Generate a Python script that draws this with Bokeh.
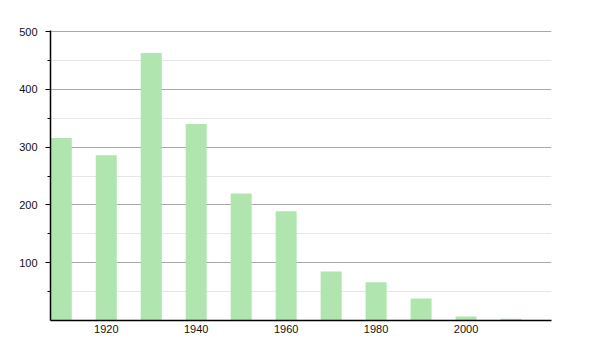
from bokeh.plotting import figure
from bokeh.models import ColumnDataSource, FixedTicker, Range1d
from bokeh.embed import file_html
from bokeh.resources import INLINE

years = [1910, 1920, 1930, 1940, 1950, 1960, 1970, 1980, 1990, 2000, 2010]
population = [316, 286, 463, 340, 220, 189, 85, 66, 38, 7, 3]
x_tick_labels = [1920, 1940, 1960, 1980, 2000]
y_ticks = [100, 200, 300, 400, 500]
y_minor = [50, 150, 250, 350, 450]

src = ColumnDataSource(data=dict(year=years, pop=population))

p = figure(width=600, height=350, output_backend="svg", toolbar_location=None,
           x_range=Range1d(1907.6, 2019), y_range=Range1d(0, 502),
           min_border_left=50, min_border_right=49, min_border_top=30, min_border_bottom=30)
p.outline_line_color = None
p.background_fill_color = "white"
p.border_fill_color = "white"

p.vbar(x="year", top="pop", width=4.67, source=src, fill_color="#b0e5b0", line_color=None)

p.xgrid.visible = False
p.ygrid.ticker = FixedTicker(ticks=y_ticks, minor_ticks=y_minor)
p.ygrid.grid_line_color = "#a8a8a8"
p.ygrid.grid_line_width = 1
p.ygrid.minor_grid_line_color = "#e6e6e6"
p.ygrid.minor_grid_line_width = 1

ya = p.yaxis[0]
ya.ticker = FixedTicker(ticks=y_ticks, minor_ticks=y_minor)
ya.axis_line_color = "black"
ya.axis_line_width = 1.5
ya.major_tick_line_color = "black"
ya.major_tick_out = 5
ya.major_tick_in = 0
ya.minor_tick_line_color = "black"
ya.minor_tick_out = 3
ya.minor_tick_in = 0
ya.major_label_standoff = 8
ya.major_label_text_font = "Liberation Sans"
ya.major_label_text_font_size = "11px"
ya.major_label_text_color = "#111111"

xa = p.xaxis[0]
xa.ticker = FixedTicker(ticks=x_tick_labels)
xa.axis_line_color = "black"
xa.axis_line_width = 1.5
xa.major_tick_out = 0
xa.major_tick_in = 0
xa.minor_tick_out = 0
xa.minor_tick_in = 0
xa.major_label_standoff = 4
xa.major_label_text_font = "Liberation Sans"
xa.major_label_text_font_size = "11px"
xa.major_label_text_color = "#111111"

open("out.html", "w").write(file_html(p, INLINE))
